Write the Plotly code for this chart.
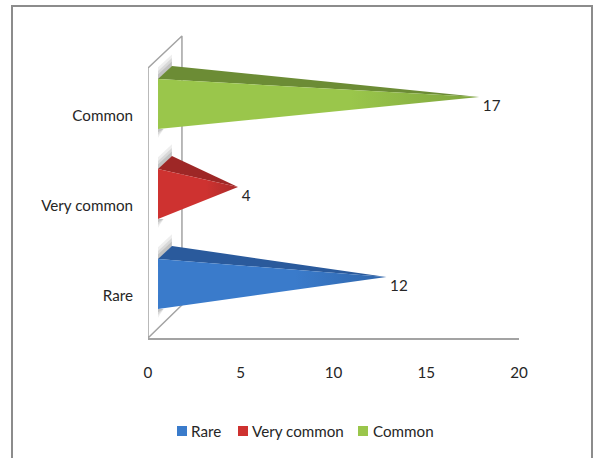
import plotly.graph_objects as go

categories = ["Rare", "Very common", "Common"]
values = [12, 4, 17]
x_ticks = [0, 5, 10, 15, 20]
front_colors = ["#3A7BCB", "#CE3230", "#9AC64B"]
tip_colors = ["#2F66AC", "#A92B2A", "#7FA53D"]
top_colors = ["#2A5A9C", "#9E2726", "#6C8C35"]

W, H = 594, 458
FONT = "Lato, Carlito, sans-serif"
TEXT = "#262626"
FS = 15.2
X0, DX, TIP = 0.54, 0.75, 0.85
Y_TOP, Y_BOT, Y_TIP, Y_BACK = 0.411, -0.144, 0.211, 0.555

fig = go.Figure()

# 3D wall outline
fig.add_trace(go.Scatter(x=[0, 0, 1.83, 1.83, 0], y=[-0.467, 2.533, 2.889, -0.1, -0.467],
                         mode="lines", line=dict(color="#A3A3A3", width=1.5),
                         cliponaxis=False, hoverinfo="skip"))

for i, (name, v) in enumerate(zip(categories, values)):
    tip = v + TIP
    # soft shadows on the wall
    for grow, alpha in [(0.13, 0.10), (0.09, 0.14), (0.05, 0.18)]:
        fig.add_trace(go.Scatter(
            x=[X0, X0 + DX, X0 + DX, X0],
            y=[i + Y_TOP - 0.01, i + Y_BACK, i + Y_BACK + grow, i + Y_TOP + grow],
            mode="lines", fill="toself", line=dict(width=0),
            fillcolor=f"rgba(90,90,90,{alpha})", hoverinfo="skip"))
        fig.add_trace(go.Scatter(
            x=[X0, X0 + 0.3, X0],
            y=[i + Y_BOT, i + Y_BOT, i + Y_BOT - grow * 0.75],
            mode="lines", fill="toself", line=dict(width=0),
            fillcolor=f"rgba(90,90,90,{alpha})", hoverinfo="skip"))
    # top face
    fig.add_trace(go.Scatter(
        x=[X0, X0 + DX, tip, X0], y=[i + Y_TOP, i + Y_BACK, i + Y_TIP, i + Y_TOP],
        mode="lines", fill="toself", line=dict(width=0),
        fillcolor=top_colors[i], hoverinfo="skip"))
    # front face
    fig.add_trace(go.Scatter(
        x=[X0, X0, tip, X0], y=[i + Y_TOP, i + Y_BOT, i + Y_TIP, i + Y_TOP],
        mode="lines", fill="toself", line=dict(width=0),
        fillgradient=dict(type="horizontal",
                          colorscale=[[0, front_colors[i]], [0.6, front_colors[i]], [1, tip_colors[i]]]),
        name=name, hoverinfo="skip"))
    # value label
    fig.add_trace(go.Scatter(
        x=[tip + 0.2], y=[i + 0.099], mode="text", text=[str(v)], textposition="middle right",
        textfont=dict(family=FONT, size=FS, color=TEXT), cliponaxis=False, hoverinfo="skip"))

# legend drawn by hand to keep the tight swatch spacing of the source
legend_swatch_x = [182, 243, 363]
legend_text_x = [190, 251, 372]
shapes = [dict(type="rect", xref="paper", yref="paper",
               x0=12 / W, x1=592 / W, y0=-0.05, y1=1 - 6 / H,
               line=dict(color="#8C8C8C", width=2), fillcolor="rgba(0,0,0,0)")]
annotations = []
for i, name in enumerate(categories):
    cx = legend_swatch_x[i]
    shapes.append(dict(type="rect", xref="paper", yref="paper",
                       x0=(cx - 5) / W, x1=(cx + 5) / W,
                       y0=1 - 436 / H, y1=1 - 426 / H,
                       line=dict(width=0), fillcolor=front_colors[i]))
    annotations.append(dict(xref="paper", yref="paper", x=legend_text_x[i] / W, y=1 - 431 / H,
                            text=name, showarrow=False, xanchor="left", yanchor="middle",
                            xshift=-1, font=dict(family=FONT, size=FS, color=TEXT)))

fig.update_layout(
    width=W, height=H, autosize=False,
    margin=dict(l=0, r=0, t=0, b=0, pad=0),
    paper_bgcolor="white", plot_bgcolor="rgba(0,0,0,0)",
    showlegend=False, shapes=shapes, annotations=annotations,
    xaxis=dict(domain=[148 / W, 519 / W], range=[0, 20], automargin=False,
               tickvals=x_ticks, ticktext=[str(t) for t in x_ticks],
               showgrid=False, zeroline=False, showline=True, linecolor="#A3A3A3", linewidth=2,
               ticks="", ticklabelstandoff=20,
               tickfont=dict(family=FONT, size=FS, color=TEXT)),
    yaxis=dict(domain=[1 - 338 / H, 1 - 30 / H], range=[-0.467, 2.956], automargin=False,
               tickvals=list(range(len(categories))), ticktext=categories,
               showgrid=False, zeroline=False, showline=False,
               ticks="", ticklabelstandoff=14,
               tickfont=dict(family=FONT, size=FS, color=TEXT)),
)

fig.write_html("out.html", post_script="document.body.style.margin='0';",
               config={"displayModeBar": False})
